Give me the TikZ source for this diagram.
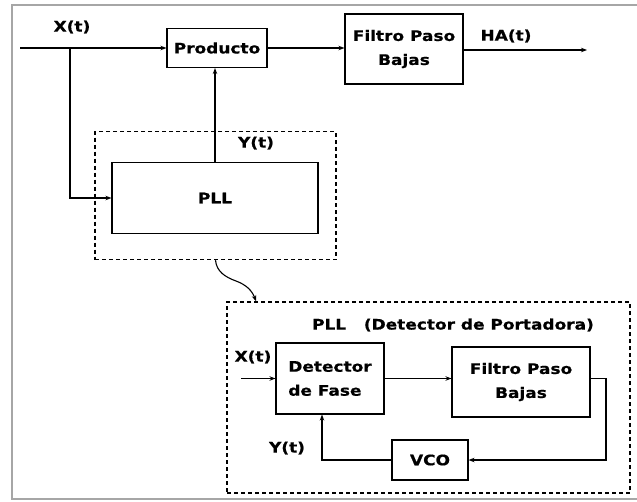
\documentclass[tikz,border=0pt]{standalone}
\usepackage{fontspec}
\setmainfont{DejaVu Sans}
\newfontfamily\lblfont[FakeStretch=1.17,FakeBold=0.6]{DejaVu Sans}
\usetikzlibrary{arrows.meta}
\begin{document}
\begin{tikzpicture}[x=1pt,y=-1pt,
  every node/.style={font=\lblfont\bfseries\fontsize{14.5}{24}\selectfont, inner sep=0pt},
  blk/.style={draw, line width=1.1pt, rectangle},
  grp/.style={draw, line width=1.4pt, dash pattern=on 4pt off 3pt, rectangle},
  wire/.style={line width=1.1pt},
  arr/.style={wire, -{Stealth[length=6pt,width=4.5pt]}},
  lbl/.style={}
]
\useasboundingbox (0,0) rectangle (637,501);
\draw[line width=1.6pt, gray!70] (637,5) -- (12,5) -- (12,499) -- (637,499);

% top row
\node[blk, minimum width=100pt, minimum height=39pt] (prod) at (217,48) {Producto};
\node[blk, minimum width=118pt, minimum height=70pt, align=center] (filt1) at (404,49) {Filtro Paso\\Bajas};
\coordinate (xin) at (20,48);
\coordinate (br) at (70,48);
\coordinate (hout) at (587,50);
\draw[arr] (xin) -- (prod.west);
\draw[arr] (prod.east) -- (prod.east -| filt1.west);
\draw[arr] (filt1.east |- hout) -- (hout);
\node[lbl] (lx) at (72,27) {X(t)};
\node[lbl] (lha) at (506,36) {HA(t)};

% PLL block
\node[grp, minimum width=241pt, minimum height=128pt] (grp1) at (215.5,195.5) {};
\node[blk, minimum width=206pt, minimum height=71pt] (pll) at (215,198) {PLL};
\draw[arr] (br) |- (pll.west);
\draw[arr] (pll.north) -- (pll.north |- prod.south);
\node[lbl] (ly1) at (256,143) {Y(t)};

% detailed PLL
\node[grp, minimum width=403pt, minimum height=191pt] (grp2) at (428.5,397.5) {};
\draw[wire, -{Stealth[length=6pt,width=4.5pt]}] (grp1.south) to[out=-85,in=160] (236,281) to[out=-20,in=110] (grp2.north west -| 256,0);
\node[lbl] (title) at (453,325) {PLL\ \ \ (Detector de Portadora)};
\node[blk, minimum width=108pt, minimum height=71pt, align=left] (det) at (330,378.5) {Detector\\de Fase};
\node[blk, minimum width=138pt, minimum height=70pt, align=center] (filt2) at (521,382) {Filtro Paso\\Bajas};
\node[blk, minimum width=76pt, minimum height=40pt] (vco) at (430,460) {VCO};
\coordinate (xin2) at (241,378.5);
\coordinate (c1) at (606,378.5);
\draw[arr] (xin2) -- (det.west);
\draw[arr] (det.east) -- (det.east -| filt2.west);
\draw[arr] (filt2.east |- c1) -- (c1) |- (vco.east);
\draw[arr] (vco.west) -| ([xshift=-8pt]det.south);
\node[lbl] (lx2) at (253,357) {X(t)};
\node[lbl] (ly2) at (287,448) {Y(t)};
\end{tikzpicture}
\end{document}
